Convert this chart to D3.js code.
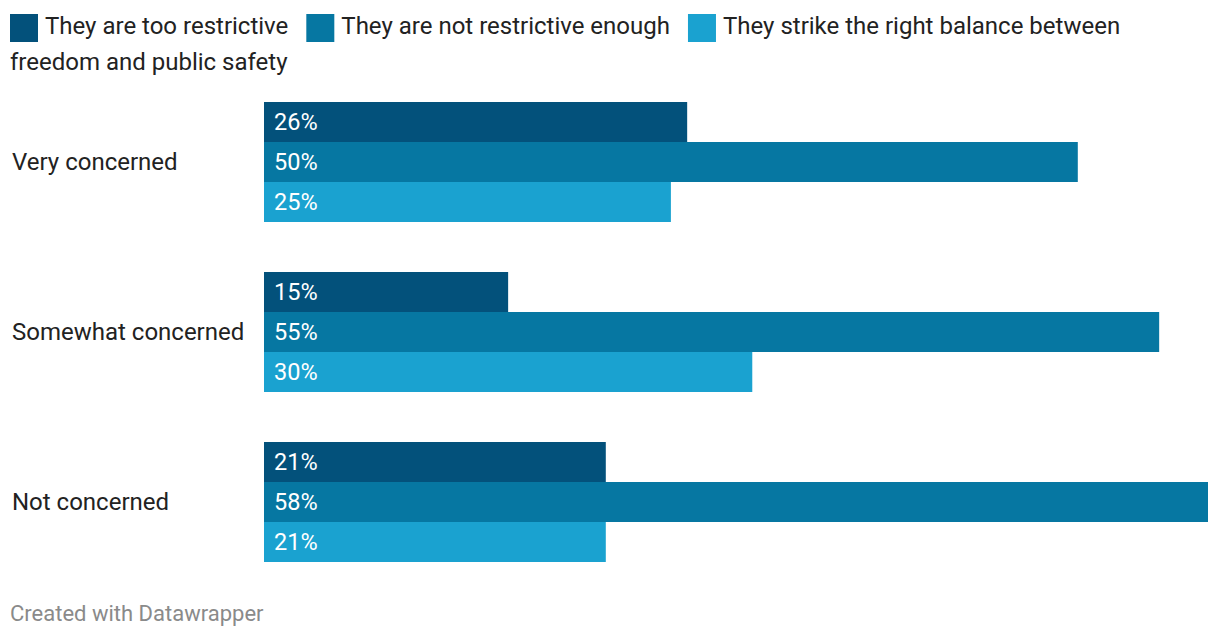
<!DOCTYPE html>
<html><head><meta charset="utf-8">
<script src="https://cdn.jsdelivr.net/npm/d3@7"></script>
<style>
html,body{margin:0;padding:0;background:#fff;}
svg{display:block;font-family:Roboto, "Noto Sans", sans-serif;}
</style></head>
<body><svg id="chart" width="1220" height="640"></svg>
<script>
const categories = ["Very concerned", "Somewhat concerned", "Not concerned"];
const seriesNames = ["They are too restrictive", "They are not restrictive enough", "They strike the right balance between freedom and public safety"];
const tooRestrictive = [26, 15, 21];
const notRestrictiveEnough = [50, 55, 58];
const rightBalance = [25, 30, 21];
const colors = ["#03517b", "#0677a2", "#1aa2d0"];
const footer = "Created with Datawrapper";

const seriesValues = [tooRestrictive, notRestrictiveEnough, rightBalance];
const svg = d3.select("#chart");

// Legend
const legend = svg.append("g");
const lineH = 36;
let lx = 10, ly = 0;
const maxW = 1190;
seriesNames.forEach((name, i) => {
  legend.append("rect").attr("x", lx).attr("y", 14 + ly * lineH).attr("width", 28).attr("height", 28).attr("fill", colors[i]);
  let tx = lx + 35;
  const words = name.split(" ");
  let line = [];
  let t = legend.append("text").attr("x", tx).attr("y", 34 + ly * lineH).attr("font-size", 24).attr("fill", "#222");
  for (const w of words) {
    line.push(w);
    t.text(line.join(" "));
    if (tx + t.node().getComputedTextLength() > maxW && line.length > 1) {
      line.pop();
      t.text(line.join(" "));
      ly += 1; tx = 10; line = [w];
      t = legend.append("text").attr("x", tx).attr("y", 34 + ly * lineH).attr("font-size", 24).attr("fill", "#222").text(w);
    }
  }
  lx = tx + t.node().getComputedTextLength() + 18;
});

// Scales
const x = d3.scaleLinear().domain([0, 58]).range([264, 1208]);
const y1 = d3.scaleBand().domain(d3.range(3)).range([0, 120]);

const groups = svg.append("g").selectAll("g").data(categories).join("g")
  .attr("transform", (d, i) => `translate(0,${102 + i * 170})`);

groups.append("text").attr("x", 12).attr("y", 60).attr("dy", "0.35em")
  .attr("font-size", 24).attr("fill", "#222").text(d => d);

groups.each(function(cat, ci) {
  const g = d3.select(this);
  seriesValues.forEach((vals, si) => {
    g.append("rect").attr("x", x(0)).attr("y", y1(si)).attr("width", x(vals[ci]) - x(0))
      .attr("height", y1.bandwidth()).attr("fill", colors[si]);
    g.append("text").attr("x", x(0) + 10).attr("y", y1(si) + y1.bandwidth() / 2).attr("dy", "0.36em")
      .attr("font-size", 23.5).attr("fill", "#fff").text(vals[ci] + "%");
  });
});

svg.append("text").attr("x", 10).attr("y", 621).attr("font-size", 22).attr("fill", "#8a8a8a").text(footer);
</script></body></html>
